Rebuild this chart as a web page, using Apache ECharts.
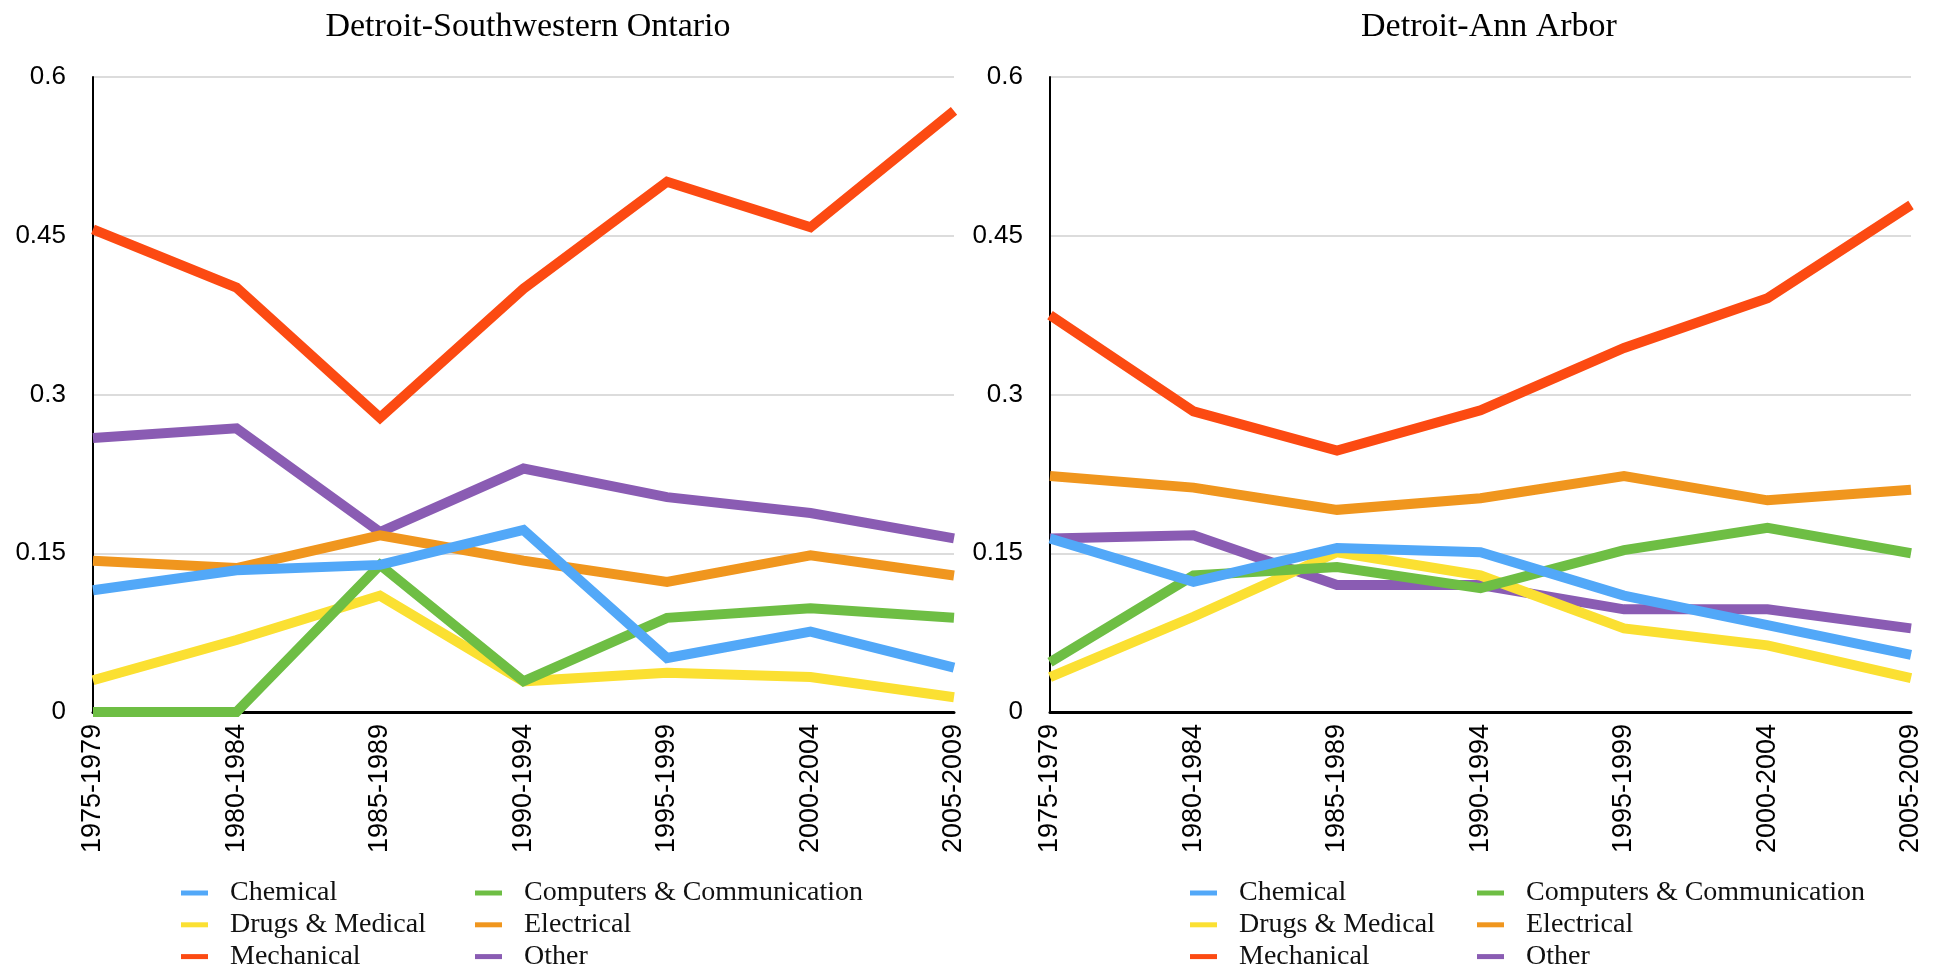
<!DOCTYPE html>
<html>
<head>
<meta charset="utf-8">
<script src="https://cdn.jsdelivr.net/npm/echarts@6/dist/echarts.min.js"></script>
<style>
  html, body { margin: 0; padding: 0; background: #fff; }
  #chart { width: 1942px; height: 972px; }
</style>
</head>
<body>
<div id="chart"></div>
<script>
const periods = ['1975-1979','1980-1984','1985-1989','1990-1994','1995-1999','2000-2004','2005-2009'];
const yTicks = [0, 0.15, 0.3, 0.45, 0.6];

const panelTitles = ['Detroit-Southwestern Ontario', 'Detroit-Ann Arbor'];
const seriesNames = ['Chemical','Computers & Communication','Drugs & Medical','Electrical','Mechanical','Other'];
const seriesColors = ['#52a8f8','#6ebe44','#fbe032','#f0961e','#fc4a12','#8a5cb3'];

// Detroit-Southwestern Ontario
const ontChemical   = [0.115, 0.134, 0.139, 0.172, 0.051, 0.076, 0.042];
const ontComputers  = [0, 0, 0.139, 0.029, 0.089, 0.098, 0.089];
const ontDrugs      = [0.030, 0.068, 0.110, 0.029, 0.037, 0.033, 0.014];
const ontElectrical = [0.143, 0.136, 0.167, 0.143, 0.123, 0.148, 0.129];
const ontMechanical = [0.456, 0.401, 0.278, 0.400, 0.501, 0.458, 0.568];
const ontOther      = [0.259, 0.268, 0.170, 0.230, 0.203, 0.188, 0.164];

// Detroit-Ann Arbor
const annChemical   = [0.164, 0.123, 0.155, 0.151, 0.110, 0.082, 0.054];
const annComputers  = [0.047, 0.129, 0.137, 0.117, 0.153, 0.174, 0.150];
const annDrugs      = [0.033, 0.090, 0.151, 0.129, 0.079, 0.063, 0.032];
const annElectrical = [0.223, 0.212, 0.191, 0.202, 0.223, 0.200, 0.210];
const annMechanical = [0.375, 0.284, 0.247, 0.285, 0.344, 0.391, 0.479];
const annOther      = [0.164, 0.167, 0.120, 0.120, 0.097, 0.097, 0.079];

const panels = [
  [ontChemical, ontComputers, ontDrugs, ontElectrical, ontMechanical, ontOther],
  [annChemical, annComputers, annDrugs, annElectrical, annMechanical, annOther]
];

const chart = echarts.init(document.getElementById('chart'));

const gridLeft = [93, 1050];
const gridW = 861;
const titleX = [523, 1484];
const legendCols = [[181, 475], [1190, 1477]];

const serif = '"Liberation Serif", "DejaVu Serif", serif';
const sans = '"Liberation Sans", Arial, sans-serif';

const grids = gridLeft.map(l => ({ left: l, top: 77, width: gridW, height: 635 }));

const xAxes = gridLeft.map((_, i) => ({
  type: 'category', gridIndex: i, data: periods, boundaryGap: false,
  axisLine: { lineStyle: { color: '#000', width: 3 } },
  axisTick: { show: false },
  axisLabel: { rotate: 90, color: '#000', fontFamily: sans, fontSize: 27, margin: 12 }
}));

const yAxes = gridLeft.map((_, i) => ({
  type: 'value', gridIndex: i, min: 0, max: 0.6, interval: 0.15,
  axisLine: { show: true, lineStyle: { color: '#000', width: 2 } },
  axisTick: { show: false },
  splitLine: { lineStyle: { color: '#d0d0d0', width: 1.5 } },
  axisLabel: { color: '#000', fontFamily: sans, fontSize: 26, margin: 27,
    formatter: v => yTicks.includes(+v.toFixed(2)) ? String(+v.toFixed(2)) : '' }
}));

// first series sits on top, as in the original
const series = [];
panels.forEach((vals, p) => {
  for (let k = seriesNames.length - 1; k >= 0; k--) {
    series.push({
      name: seriesNames[k], type: 'line', xAxisIndex: p, yAxisIndex: p,
      data: vals[k], symbol: 'none', smooth: false,
      lineStyle: { width: 10, color: seriesColors[k], join: 'miter' },
      itemStyle: { color: seriesColors[k] },
      emphasis: { disabled: true }
    });
  }
});

const legendStyle = { color: '#111', fontFamily: serif, fontSize: 28, lineHeight: 28, padding: [0, 0, 0, 17] };
const legends = [];
legendCols.forEach(cols => {
  const common = { orient: 'vertical', top: 879, height: 95, padding: 0, itemWidth: 27, itemHeight: 5,
    itemGap: 3.8, icon: 'rect', textStyle: legendStyle, selectedMode: false };
  legends.push(Object.assign({ left: cols[0], data: ['Chemical','Drugs & Medical','Mechanical'] }, common));
  legends.push(Object.assign({ left: cols[1], data: ['Computers & Communication','Electrical','Other'] }, common));
});

chart.setOption({
  animation: false,
  color: seriesColors,
  title: panelTitles.map((t, i) => ({
    text: t, left: titleX[i], top: 5, textAlign: 'center',
    textStyle: { fontFamily: serif, fontWeight: 'normal', fontSize: 34, color: '#000' }
  })),
  grid: grids,
  xAxis: xAxes,
  yAxis: yAxes,
  legend: legends,
  series
});
</script>
</body>
</html>
